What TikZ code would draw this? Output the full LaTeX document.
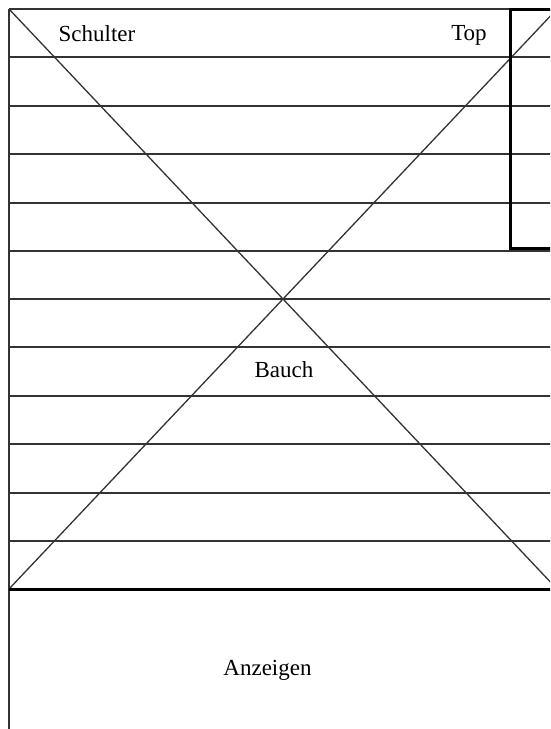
\documentclass[tikz,border=0pt]{standalone}
\usepackage{fontspec}
\setmainfont{Liberation Serif}

\begin{document}
\begin{tikzpicture}[x=1pt,y=-1pt,
  thinline/.style={line width=1.3pt,black!80},
  thickline/.style={line width=3pt,black},
  label/.style={font=\fontsize{23}{27}\selectfont,anchor=base}]
  \useasboundingbox (0,0) rectangle (550,729);
  \clip (0,0) rectangle (550,729);
  \coordinate (tl) at (9,9);
  \coordinate (tr) at (557,9);
  \coordinate (bl) at (9,589);
  \coordinate (br) at (557,589);
  % rows
  \foreach \y in {9,57,106,154,203,251,299,347,396,444,493,541}
    \draw[thinline] (9,\y) -- (560,\y);
  \draw[thinline] (9,9) -- (9,740);
  \draw[thinline] (tl)--(br);
  \draw[thinline] (bl)--(tr);
  \draw[thickline] (bl) -- (560,589);
  \draw[thickline] (560,9) -- (510,9) -- (510,248) -- (560,248);
  \node[label] (schulter) at (97,41) {Schulter};
  \node[label] (top) at (469,40) {Top};
  \node[label] (bauch) at (284,377) {Bauch};
  \node[label] (anzeigen) at (267.5,675) {Anzeigen};
\end{tikzpicture}
\end{document}
